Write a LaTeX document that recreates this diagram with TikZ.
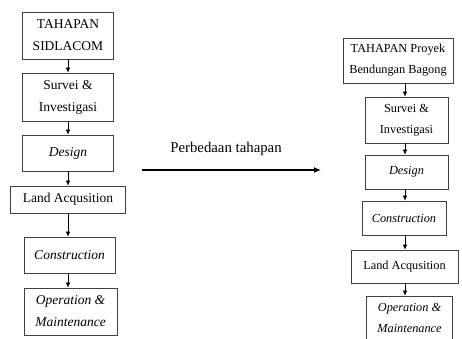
\documentclass[tikz,border=0pt]{standalone}
\usepackage{fontspec}
\setmainfont{Liberation Serif}
\usetikzlibrary{arrows.meta, positioning}
\pgfkeys{/tikz/.cd,
    overall style/.style={
        x=1pt, y=-1pt,       % 按像素坐标布置，y 向下
        >={Latex[length=5pt, width=4.5pt]}
    },
    box style/.style={draw=black!75, line width=0.7pt, inner sep=0pt, align=center,
        font=\fontsize{13.5}{22}\selectfont},
    box it/.style={box style, font=\fontsize{13.5}{22}\selectfont\itshape},
    boxR style/.style={box style, font=\fontsize{12.3}{21}\selectfont},
    boxR it/.style={box style, font=\fontsize{12.3}{21}\selectfont\itshape},
    flow arrow/.style={->, line width=0.6pt}
}

\begin{document}
\begin{tikzpicture}[overall style]
    \useasboundingbox (0,0) rectangle (462,338);

    % --- 1. 左列：SIDLACOM ---
    \coordinate (axisL) at (68, 0);
    \node[box style, minimum width=91pt, minimum height=47pt] (sidL) at (68, 35.5) {TAHAPAN\\SIDLACOM};
    \node[box style, minimum width=91pt, minimum height=48pt] (surL) at (68, 97) {Survei \&\\Investigasi};
    \node[box it, minimum width=91pt, minimum height=36pt] (desL) at (68, 153) {Design};
    \node[box style, minimum width=115pt, minimum height=27pt] (landL) at (68, 199.5) {Land Acqusition};
    \node[box it, minimum width=91pt, minimum height=36pt] (conL) at (69.5, 255) {Construction};
    \node[box it, minimum width=93pt, minimum height=47pt] (opL) at (70.5, 311.5) {Operation \&\\Maintenance};

    \foreach \a/\b in {sidL/surL, surL/desL, desL/landL, landL/conL, conL/opL} {
        \draw[flow arrow] (\a.south -| axisL) -- (\b.north -| axisL);
    }

    % --- 2. 右列：Proyek Bendungan Bagong ---
    \coordinate (axisR) at (405, 0);
    \node[boxR style, minimum width=110pt, minimum height=45pt] (proyR) at (398, 60.5) {TAHAPAN Proyek\\Bendungan Bagong};
    \node[boxR style, minimum width=83pt, minimum height=46pt] (surR) at (406.5, 120) {Survei \&\\Investigasi};
    \node[boxR it, minimum width=83pt, minimum height=34pt] (desR) at (406.5, 172) {Design};
    \node[boxR it, minimum width=84pt, minimum height=34pt] (conR) at (404, 218) {Construction};
    \node[boxR style, minimum width=107pt, minimum height=33pt] (landR) at (404.5, 266.5) {Land Acqusition};
    \node[boxR it, minimum width=86pt, minimum height=44pt] (opR) at (409.5, 318) {Operation \&\\Maintenance};

    \foreach \a/\b in {proyR/surR, surR/desR, desR/conR, conR/landR, landR/opR} {
        \draw[flow arrow] (\a.south -| axisR) -- (\b.north -| axisR);
    }

    % --- 3. 中间箭头和说明 ---
    \coordinate (arrS) at (142, 170);
    \coordinate (arrE) at (321, 170);
    \draw[->, line width=1.3pt, >={Latex[length=7pt, width=6pt]}] (arrS) -- (arrE);
    \node[font=\fontsize{14.8}{18}\selectfont] (diffLbl) at (226, 149) {Perbedaan tahapan};

\end{tikzpicture}
\end{document}
